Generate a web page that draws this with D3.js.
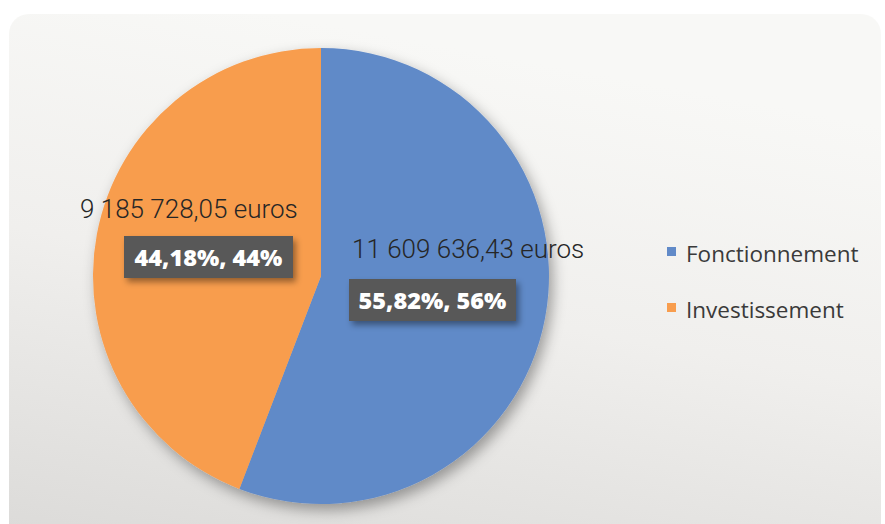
<!DOCTYPE html>
<html>
<head>
<meta charset="utf-8">
<script src="https://cdn.jsdelivr.net/npm/d3@7"></script>
<style>
  body { margin: 0; background: #fff; }
  svg { display: block; }
</style>
</head>
<body>
<script>
const categories = ["Fonctionnement", "Investissement"];
const values = [11609636.43, 9185728.05];
const amountLabels = ["11 609 636,43 euros", "9 185 728,05 euros"];
const percentLabels = ["55,82%, 56%", "44,18%, 44%"];
const colors = ["#618ac8", "#f89d4e"];

const W = 885, H = 524;
const cx = 321, cy = 276, r = 228;

const svg = d3.select("body").append("svg")
    .attr("width", W)
    .attr("height", H);

const defs = svg.append("defs");

const grad = defs.append("linearGradient")
    .attr("id", "bg")
    .attr("x1", 0.3).attr("y1", 0).attr("x2", 0).attr("y2", 1);
grad.append("stop").attr("offset", "0%").attr("stop-color", "#f8f8f6");
grad.append("stop").attr("offset", "45%").attr("stop-color", "#f0efed");
grad.append("stop").attr("offset", "100%").attr("stop-color", "#dbdad8");

const shadow = defs.append("filter")
    .attr("id", "shadow")
    .attr("x", "-20%").attr("y", "-20%")
    .attr("width", "150%").attr("height", "150%");
shadow.append("feDropShadow")
    .attr("dx", 4).attr("dy", 6)
    .attr("stdDeviation", 7)
    .attr("flood-color", "#000")
    .attr("flood-opacity", 0.35);

const boxShadow = defs.append("filter")
    .attr("id", "boxshadow")
    .attr("x", "-20%").attr("y", "-40%")
    .attr("width", "140%").attr("height", "190%");
boxShadow.append("feDropShadow")
    .attr("dx", 3).attr("dy", 4)
    .attr("stdDeviation", 3)
    .attr("flood-color", "#000")
    .attr("flood-opacity", 0.4);

// panel
svg.append("rect")
    .attr("x", 9).attr("y", 14)
    .attr("width", 872).attr("height", 530)
    .attr("rx", 20)
    .attr("fill", "url(#bg)");

const pie = d3.pie().sort(null).value(d => d);
const arcs = pie(values);
const arc = d3.arc().innerRadius(0).outerRadius(r);

const g = svg.append("g")
    .attr("transform", "translate(" + cx + "," + cy + ")");

g.append("g")
    .attr("filter", "url(#shadow)")
    .selectAll("path")
    .data(arcs)
    .enter()
    .append("path")
    .attr("d", arc)
    .attr("fill", (d, i) => colors[i]);

// label positions (relative to centre)
const amountPos = [[31, -18], [-241, -58]];
const boxPos = [[28, 3], [-197, -40]];
const boxW = [167, 169], boxH = 42;

g.selectAll(".amount")
    .data(arcs)
    .enter()
    .append("text")
    .attr("class", "amount")
    .attr("x", (d, i) => amountPos[i][0])
    .attr("y", (d, i) => amountPos[i][1])
    .style("font-family", "Roboto")
    .style("font-weight", 300)
    .style("font-size", "26px")
    .attr("fill", "#262626")
    .text((d, i) => amountLabels[i]);

const boxes = g.selectAll(".box")
    .data(arcs)
    .enter()
    .append("g")
    .attr("class", "box")
    .attr("transform", (d, i) => "translate(" + boxPos[i][0] + "," + boxPos[i][1] + ")");

boxes.append("rect")
    .attr("width", (d, i) => boxW[i])
    .attr("height", boxH)
    .attr("fill", "#585858")
    .attr("filter", "url(#boxshadow)");

boxes.append("text")
    .attr("x", (d, i) => boxW[i] / 2)
    .attr("y", 30)
    .attr("text-anchor", "middle")
    .style("font-family", "Open Sans")
    .style("font-weight", 800)
    .style("font-size", "23.5px")
    .attr("fill", "#fff")
    .text((d, i) => percentLabels[i]);

// legend
const legend = svg.append("g")
    .attr("transform", "translate(667,247)");

const item = legend.selectAll(".item")
    .data(categories)
    .enter()
    .append("g")
    .attr("transform", (d, i) => "translate(0," + i * 56 + ")");

item.append("rect")
    .attr("width", 9).attr("height", 9)
    .attr("fill", (d, i) => colors[i]);

item.append("text")
    .attr("x", 19)
    .attr("y", 15)
    .style("font-family", "Open Sans")
    .style("font-weight", 500)
    .style("font-size", "22.5px")
    .attr("fill", "#3a3a3a")
    .text(d => d);
</script>
</body>
</html>
